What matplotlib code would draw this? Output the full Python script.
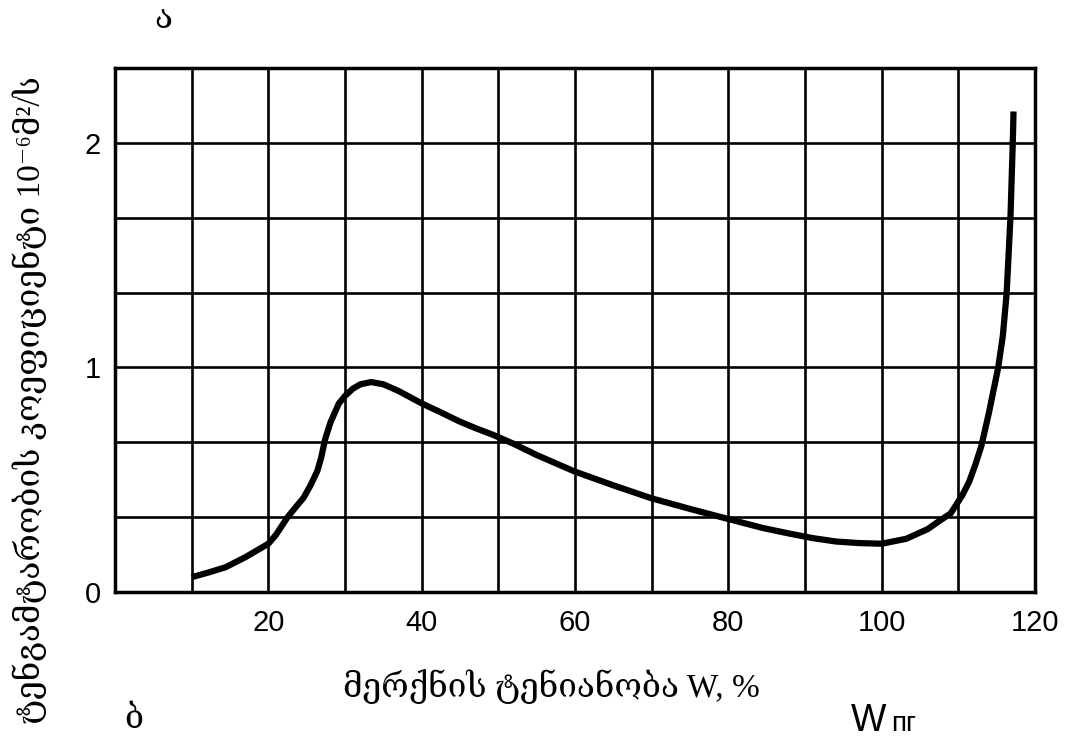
import numpy as np
import matplotlib.pyplot as plt

# moisture content W, %  vs  moisture conductivity coefficient, 10^-6 m2/s
w_pct = [10, 12, 14.4, 17, 20, 21, 22.5, 23.5, 24.6, 25.5, 26.4, 26.9, 27.4,
         28.1, 29.2, 30, 31, 32, 33.4, 35, 37, 40, 42.5, 44.9, 47, 49.3, 52,
         55, 60, 65, 70, 75, 80, 84.5, 88, 91, 94, 97, 100, 103.2, 106, 107.5,
         109, 110.5, 111.4, 112.2, 113, 114, 114.6, 115.2, 115.8, 116.3, 116.8,
         117.1, 117.2]
coef = [0.066, 0.085, 0.11, 0.155, 0.215, 0.255, 0.333, 0.375, 0.42, 0.475,
        0.54, 0.6, 0.68, 0.755, 0.84, 0.873, 0.905, 0.925, 0.935, 0.925, 0.895,
        0.84, 0.80, 0.76, 0.73, 0.70, 0.66, 0.61, 0.536, 0.475, 0.417, 0.37,
        0.325, 0.285, 0.26, 0.24, 0.225, 0.218, 0.215, 0.237, 0.28, 0.316,
        0.35, 0.43, 0.49, 0.565, 0.65, 0.80, 0.9, 1.0, 1.14, 1.33, 1.67, 2.0,
        2.14]

x_ticks = [20, 40, 60, 80, 100, 120]
y_ticks = [0, 1, 2]

xlabel = "მერქნის ტენიანობა W, %"
ylabel = "ტენგამტარობის კოეფიციენტი 10⁻⁶მ²/ს"

serif = ['Liberation Serif', 'DejaVu Serif']
sans = ['Liberation Sans', 'DejaVu Sans']

fig = plt.figure(figsize=(10.69, 7.40), dpi=100)
ax = fig.add_axes([0.1076, 0.2, 0.8606, 0.708])

ax.plot(w_pct, coef, color='black', lw=4.5, solid_capstyle='butt',
        solid_joinstyle='round')

ax.set_xlim(0, 120)
ax.set_ylim(0, 7 / 3)

# grid every 10 % in x and every 1/3 in y
ax.set_xticks(np.arange(0, 121, 10), minor=True)
ax.set_yticks(np.arange(0, 2.34, 1 / 3), minor=True)
ax.set_xticks(x_ticks)
ax.set_yticks(y_ticks)
ax.grid(which='both', color='black', lw=1.9)
ax.tick_params(which='both', length=0)
ax.set_xticklabels([str(v) for v in x_ticks], family=sans, fontsize=21)
ax.set_yticklabels([str(v) for v in y_ticks], family=sans, fontsize=21)
ax.tick_params(axis='x', pad=12)
ax.tick_params(axis='y', pad=10)
for s in ax.spines.values():
    s.set_linewidth(2.5)

fig.text(0.516, 0.072, xlabel, family=serif, fontsize=24, ha='center', va='center')
fig.text(0.028, 0.46, ylabel, family=serif, fontsize=24, ha='center', va='center',
         rotation=90)
fig.text(0.153, 0.973, "ა", family=serif, fontsize=24, ha='center', va='center')
fig.text(0.125, 0.027, "ბ", family=serif, fontsize=24, ha='center', va='center')
fig.text(0.812, 0.026, "W", family=sans, fontsize=27, ha='center', va='center')
fig.text(0.834, 0.022, "пг", family=sans, fontsize=20, ha='left', va='center')

fig.savefig('out.png', dpi=100)
